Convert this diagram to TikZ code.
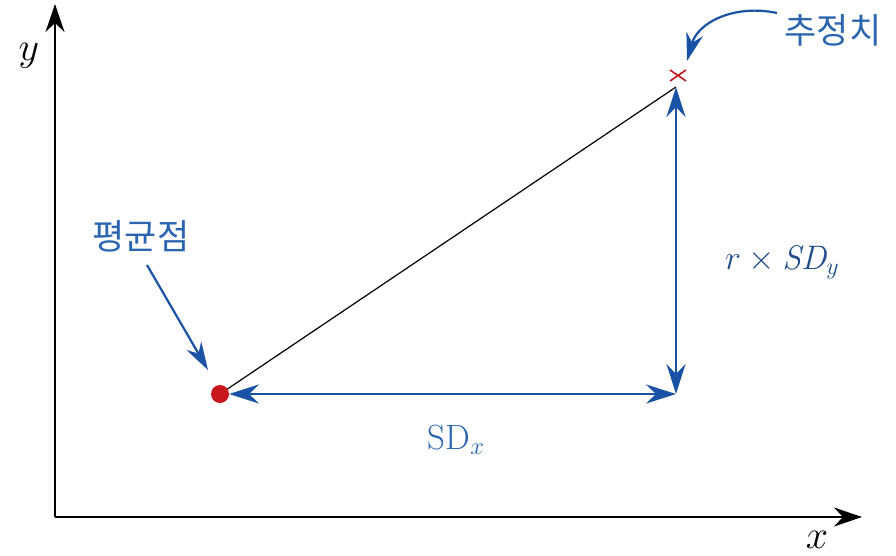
\documentclass[tikz,border=0pt]{standalone}
\usepackage{fix-cm}
\usepackage{fontspec}
\newfontfamily\kr{Noto Sans CJK KR}
\usetikzlibrary{arrows.meta}
\definecolor{arrblue}{HTML}{1A52A6}
\definecolor{txtblue}{HTML}{2A66B0}
\definecolor{mathblue}{HTML}{1F4C8C}
\definecolor{ptred}{HTML}{C8161D}
\tikzset{
  axis/.style={line width=2pt, -{Stealth[length=28pt,width=19pt,inset=9pt]}},
  barrow/.style={arrblue, line width=2.8pt, {Stealth[length=30pt,width=19pt,inset=10pt]}-{Stealth[length=30pt,width=19pt,inset=10pt]}},
  pointer/.style={arrblue, line width=2.2pt, -{Stealth[length=28pt,width=17pt,inset=9pt]}},
  krlabel/.style={txtblue, font=\kr\fontsize{35}{35}\selectfont, inner sep=0pt},
}
\begin{document}
\begin{tikzpicture}[x=1pt,y=-1pt]
\useasboundingbox (0,0) rectangle (896,555);
% axes
\coordinate (O) at (55,517);
\coordinate (ytop) at (55,4);
\coordinate (xend) at (862,517);
\draw[axis] (O) -- (ytop);
\draw[axis] (55,517) -- (xend);
\node[inner sep=0pt, font=\fontsize{40}{40}\selectfont] (ylab) at (29,56) {$y$};
\node[inner sep=0pt, font=\fontsize{40}{40}\selectfont] (xlab) at (817,540) {$x$};
% points
\coordinate (mean) at (220,394);
\coordinate (meanedge) at (229,394);
\coordinate (corner) at (676,394);
\coordinate (top) at (676,87);
\draw[black, line width=1.2pt] (mean) -- (top);
\fill[ptred] (mean) circle (9);
\draw[barrow] (meanedge) -- (corner);
\draw[barrow] (corner) -- (top);
\draw[ptred, line width=1.6pt] (670,70) -- (686,81) (670,81) -- (686,70);
\coordinate (est) at (678,75);
% labels
\node[krlabel] (estlab) at (833,30) {추정치};
\node[krlabel] (meanlab) at (141,236) {평균점};
\draw[pointer] (777,13) .. controls (735,4) and (698,22) .. (687,61);
\draw[pointer] (147,265) -- (208,370);
\node[txtblue, inner sep=0pt, font=\fontsize{35}{35}\selectfont] (sdx) at (456,440) {SD$_x$};
\node[mathblue, inner sep=0pt, font=\fontsize{34}{34}\selectfont] (sdy) at (782,262) {$r \times \mathit{SD}_y$};
\end{tikzpicture}
\end{document}
